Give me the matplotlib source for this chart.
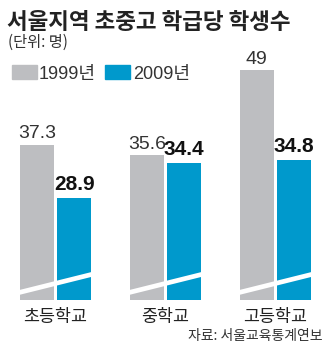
import matplotlib
matplotlib.use("Agg")
import matplotlib.pyplot as plt
from matplotlib.patches import Rectangle
import numpy as np

plt.rcParams['font.family'] = ['Noto Sans CJK KR', 'DejaVu Sans']

title = "서울지역 초중고 학급당 학생수"
unit = "(단위: 명)"
source = "자료: 서울교육통계연보"
categories = ["초등학교", "중학교", "고등학교"]
series_names = ["1999년", "2009년"]
values_1999 = [37.3, 35.6, 49]
values_2009 = [28.9, 34.4, 34.8]
labels_1999 = ["37.3", "35.6", "49"]
labels_2009 = ["28.9", "34.4", "34.8"]

GRAY = "#BDBEC1"
BLUE = "#0099CC"
NUMF = ['Liberation Sans', 'Noto Sans CJK KR']

W, H = 330, 351
fig = plt.figure(figsize=(W / 100, H / 100), dpi=100)
fig.patch.set_facecolor("white")

def fx(px):
    return px / W

def fy(py):
    return 1 - py / H

ax = fig.add_axes([0, fy(300), 1, (300 - 40) / H])
ax.set_facecolor("none")
x = np.arange(len(categories))
bw = 0.31
off = 0.17
ax.bar(x - off, values_1999, width=bw, color=GRAY, zorder=2)
ax.bar(x + off, values_2009, width=bw, color=BLUE, zorder=2)
ax.set_xlim(-0.5045, 2.4955)
ax.set_ylim(12.9, 12.9 + 260 / 6.37)

# broken-axis white diagonal strokes
for xi in x:
    ax.plot([xi - 0.36, xi + 0.36], [13.95, 17.05], color="white", lw=3.4,
            solid_capstyle="butt", zorder=3)

for xi, v, lab in zip(x, values_1999, labels_1999):
    ax.annotate(lab, (xi - off, v), xytext=(0, 4.5), textcoords="offset points",
                ha="center", va="baseline", fontsize=14, color="#333333",
                family=NUMF)
for xi, v, lab in zip(x, values_2009, labels_2009):
    ax.annotate(lab, (xi + off, v), xytext=(0, 5.8), textcoords="offset points",
                ha="center", va="baseline", fontsize=15, fontweight="bold",
                color="#111111", family=NUMF)

for s in ax.spines.values():
    s.set_visible(False)
ax.set_yticks([])
ax.set_xticks(x)
ax.set_xticklabels(categories, fontsize=12.5, color="#222222")
ax.tick_params(axis="x", length=0, pad=6)

fig.text(fx(7), fy(29), title, fontsize=16.2, fontweight="bold",
         color="#222222", va="baseline", ha="left")
fig.text(fx(8), fy(47), unit, fontsize=11, color="#333333",
         va="baseline", ha="left")

# legend
leg = [(12, 39, GRAY), (105, 133, BLUE)]
for (sx, tx, c), name in zip(leg, series_names):
    fig.patches.append(Rectangle((fx(sx), fy(79)), 25 / W, 14 / H,
                                 transform=fig.transFigure, color=c))
    fig.text(fx(tx), fy(78.5), name, fontsize=13, color="#333333",
             va="baseline", ha="left", family=NUMF)

fig.text(fx(323), fy(340), source, fontsize=10, color="#333333",
         va="baseline", ha="right")

fig.savefig("out.png", dpi=100, facecolor="white")
